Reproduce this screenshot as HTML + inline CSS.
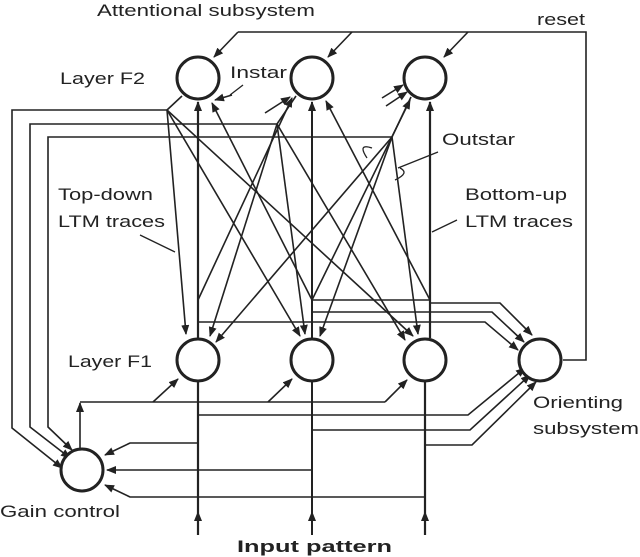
<!DOCTYPE html>
<html><head><meta charset="utf-8"><style>
html,body{margin:0;padding:0;background:#fff;}
svg{display:block;}
text{font-family:"Liberation Sans",sans-serif;fill:#222;}
</style></head><body>
<svg width="640" height="557" viewBox="0 0 640 557" xmlns="http://www.w3.org/2000/svg">
<defs>
<marker id="a" markerWidth="10" markerHeight="8" refX="9" refY="4" orient="auto" markerUnits="userSpaceOnUse">
<path d="M0,0 L10,4 L0,8 Z" fill="#222"/></marker>
</defs>
<g stroke="#222" stroke-width="1.6" fill="none">
<polyline points="563,360 586,360 586,32 238,32"/>
<line x1="238" y1="32" x2="214" y2="57" marker-end="url(#a)"/>
<line x1="352" y1="32" x2="328" y2="57" marker-end="url(#a)"/>
<line x1="468" y1="32" x2="444" y2="57" marker-end="url(#a)"/>
<line x1="182" y1="96" x2="167" y2="110"/>
<line x1="296" y1="96" x2="277" y2="124"/>
<line x1="411" y1="97" x2="392" y2="137"/>
<polyline points="167,110 12,110 12,428 62,468" marker-end="url(#a)"/>
<polyline points="277,124 30,124 30,427 70,458" marker-end="url(#a)"/>
<polyline points="392,137 48,137 48,427 72,450" marker-end="url(#a)"/>
<line x1="167" y1="110" x2="186" y2="334" marker-end="url(#a)"/>
<line x1="167" y1="110" x2="300" y2="336" marker-end="url(#a)"/>
<line x1="167" y1="110" x2="413" y2="336" marker-end="url(#a)"/>
<line x1="277" y1="124" x2="210" y2="336" marker-end="url(#a)"/>
<line x1="277" y1="124" x2="305" y2="334" marker-end="url(#a)"/>
<line x1="277" y1="124" x2="405" y2="340" marker-end="url(#a)"/>
<line x1="392" y1="137" x2="216" y2="342" marker-end="url(#a)"/>
<line x1="392" y1="137" x2="320" y2="336" marker-end="url(#a)"/>
<line x1="392" y1="137" x2="418" y2="334" marker-end="url(#a)"/>
<line x1="198" y1="338" x2="198" y2="102" stroke-width="2.2" marker-end="url(#a)"/>
<line x1="312" y1="338" x2="312" y2="102" stroke-width="2" marker-end="url(#a)"/>
<line x1="430" y1="338" x2="430" y2="102" stroke-width="2.2" marker-end="url(#a)"/>
<line x1="312" y1="300" x2="212" y2="103" marker-end="url(#a)"/>
<line x1="198" y1="300" x2="292" y2="98" marker-end="url(#a)"/>
<line x1="430" y1="300" x2="326" y2="101" marker-end="url(#a)"/>
<line x1="312" y1="300" x2="410" y2="100" marker-end="url(#a)"/>
<line x1="265" y1="113" x2="290" y2="97" marker-end="url(#a)"/>
<line x1="386" y1="106" x2="407" y2="92" marker-end="url(#a)"/>
<line x1="382" y1="98" x2="403" y2="85" marker-end="url(#a)"/>
<line x1="232" y1="95" x2="215" y2="100" marker-end="url(#a)"/>
<line x1="312" y1="300" x2="430" y2="300"/>
<polyline points="430,303 500,303 532,335" marker-end="url(#a)"/>
<polyline points="312,312 492,312 524,342" marker-end="url(#a)"/>
<polyline points="198,322 485,322 518,350" marker-end="url(#a)"/>
<line x1="198" y1="382" x2="198" y2="535" stroke-width="2.2"/>
<line x1="312" y1="382" x2="312" y2="535" stroke-width="2"/>
<line x1="425" y1="382" x2="425" y2="535" stroke-width="2.2"/>
<line x1="198" y1="535" x2="198" y2="512" marker-end="url(#a)"/>
<line x1="312" y1="535" x2="312" y2="512" marker-end="url(#a)"/>
<line x1="425" y1="535" x2="425" y2="512" marker-end="url(#a)"/>
<line x1="80" y1="448" x2="80" y2="403" marker-end="url(#a)"/>
<polyline points="80,402 385,402"/>
<line x1="153" y1="402" x2="178" y2="379" marker-end="url(#a)"/>
<line x1="268" y1="402" x2="292" y2="379" marker-end="url(#a)"/>
<line x1="385" y1="402" x2="407" y2="380" marker-end="url(#a)"/>
<polyline points="198,415 468,415 525,368" marker-end="url(#a)"/>
<polyline points="312,430 470,430 530,375" marker-end="url(#a)"/>
<polyline points="425,445 472,445 536,382" marker-end="url(#a)"/>
<polyline points="198,443 130,443 105,455" marker-end="url(#a)"/>
<line x1="312" y1="470" x2="107" y2="470" marker-end="url(#a)"/>
<polyline points="425,497 130,497 105,485" marker-end="url(#a)"/>
<line x1="140" y1="235" x2="175" y2="252" stroke-width="1.3"/>
<line x1="432" y1="232" x2="457" y2="220" stroke-width="1.3"/>
<line x1="398" y1="168" x2="438" y2="152" stroke-width="1.3"/>
<line x1="230" y1="95" x2="243" y2="85" stroke-width="1.3"/>
<path d="M372,148 q-15,-5 -5,10 M400,168 q10,5 -5,12" stroke-width="1.3"/>
</g>
<g stroke="#222" stroke-width="3" fill="#fff">
<circle cx="198" cy="78" r="21"/><circle cx="312" cy="78" r="21"/><circle cx="425" cy="78" r="21"/>
<circle cx="198" cy="360" r="21"/><circle cx="312" cy="360" r="21"/><circle cx="425" cy="360" r="21"/>
<circle cx="540" cy="360" r="21"/><circle cx="82" cy="470" r="21"/>
</g>
<g font-size="17" lengthAdjust="spacingAndGlyphs">
<text x="97" y="16" textLength="218" lengthAdjust="spacingAndGlyphs">Attentional subsystem</text>
<text x="537" y="25" textLength="48" lengthAdjust="spacingAndGlyphs">reset</text>
<text x="60" y="84" textLength="85" lengthAdjust="spacingAndGlyphs">Layer F2</text>
<text x="230" y="78" textLength="57" lengthAdjust="spacingAndGlyphs">Instar</text>
<text x="442" y="145" textLength="73" lengthAdjust="spacingAndGlyphs">Outstar</text>
<text x="465" y="200" textLength="102" lengthAdjust="spacingAndGlyphs">Bottom-up</text>
<text x="465" y="227" textLength="108" lengthAdjust="spacingAndGlyphs">LTM traces</text>
<text x="58" y="200" textLength="95" lengthAdjust="spacingAndGlyphs">Top-down</text>
<text x="58" y="227" textLength="107" lengthAdjust="spacingAndGlyphs">LTM traces</text>
<text x="68" y="367" textLength="84" lengthAdjust="spacingAndGlyphs">Layer F1</text>
<text x="533" y="408" textLength="90" lengthAdjust="spacingAndGlyphs">Orienting</text>
<text x="533" y="434" textLength="106" lengthAdjust="spacingAndGlyphs">subsystem</text>
<text x="0" y="517" textLength="120" lengthAdjust="spacingAndGlyphs">Gain control</text>
<text x="237" y="552" font-weight="bold" textLength="155" lengthAdjust="spacingAndGlyphs">Input pattern</text>
</g>
</svg>
</body></html>
